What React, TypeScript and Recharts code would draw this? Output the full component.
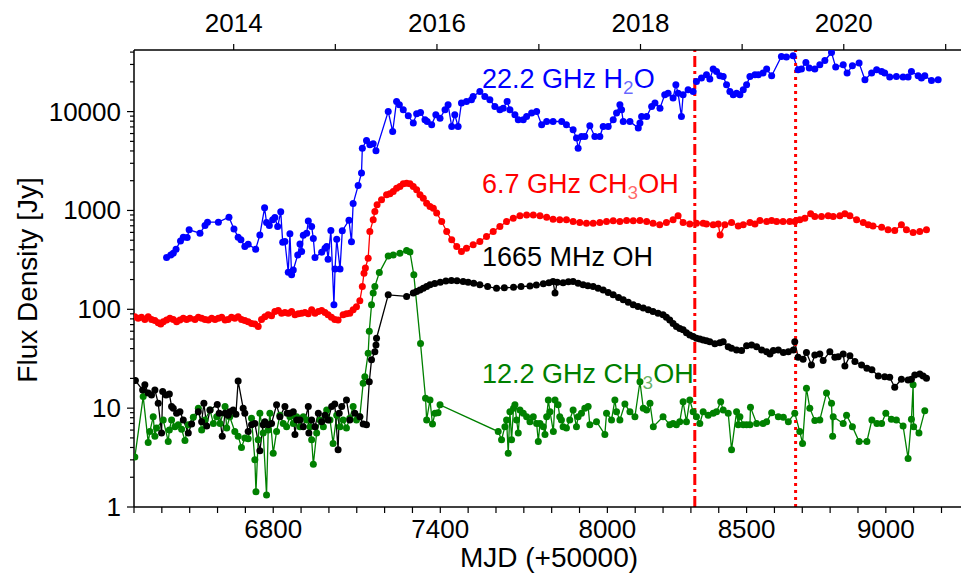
import React from "react";
import { LineChart, Line, XAxis, YAxis, ReferenceLine } from "recharts";

// [MJD - 50000, flux density in Jy]
const h2o: [number, number][] = [
  [6417, 334], [6432, 355], [6441, 370], [6451, 406], [6467, 492], [6477, 537], [6491, 532], [6498, 637],
  [6537, 589], [6555, 703], [6564, 761], [6603, 761], [6641, 855], [6659, 651], [6674, 537], [6684, 504],
  [6698, 431], [6710, 456], [6737, 406], [6752, 566], [6769, 1062], [6776, 755], [6786, 703], [6798, 804],
  [6806, 847], [6816, 687], [6827, 968], [6834, 478], [6842, 485], [6854, 237], [6860, 580], [6866, 224],
  [6872, 250], [6888, 355], [6896, 459], [6902, 384], [6908, 562], [6920, 589], [6926, 780], [6938, 687],
  [6944, 520], [6950, 334], [6974, 378], [6986, 415], [6992, 431], [6997, 321], [7007, 627], [7018, 111],
  [7022, 256], [7028, 512], [7040, 255], [7048, 622], [7072, 798], [7081, 481], [7087, 1175], [7105, 1786],
  [7117, 2387], [7120, 4270], [7135, 5100], [7147, 4610], [7159, 4720], [7169, 4010], [7213, 10020], [7229, 6290],
  [7243, 12650], [7253, 11720], [7267, 10430], [7285, 9060], [7303, 7650], [7315, 9510], [7329, 9800], [7345, 8260],
  [7353, 7940], [7369, 7350], [7384, 9290], [7399, 8590], [7417, 10430], [7428, 11720], [7441, 7070], [7452, 9290],
  [7464, 7070], [7476, 12190], [7494, 12650], [7512, 13150], [7518, 14220], [7542, 15970], [7560, 14220], [7578, 13150],
  [7596, 11270], [7614, 10430], [7626, 10840], [7640, 12650], [7650, 10430], [7668, 9290], [7680, 8260], [7698, 8260],
  [7710, 8920], [7728, 9660], [7746, 10020], [7764, 7350], [7782, 7940], [7805, 7940], [7836, 7940], [7853, 7350],
  [7877, 6540], [7889, 5400], [7895, 4270], [7907, 5600], [7919, 5600], [7937, 7180], [7955, 5600], [7973, 5600],
  [7985, 7070], [8003, 7070], [8021, 8260], [8033, 9660], [8045, 11720], [8051, 10430], [8057, 7940], [8081, 7940],
  [8111, 6810], [8117, 7650], [8123, 8920], [8141, 8920], [8159, 11270], [8171, 12190], [8189, 10840], [8206, 14790],
  [8218, 15380], [8236, 13700], [8246, 18660], [8254, 15380], [8266, 8920], [8272, 14790], [8290, 16630], [8308, 15970],
  [8320, 20180], [8338, 21830], [8356, 23580], [8368, 21330], [8380, 27000], [8392, 25460], [8404, 23000], [8416, 22650],
  [8428, 18660], [8440, 15970], [8452, 14790], [8464, 15380], [8476, 14790], [8488, 16630], [8500, 18660], [8512, 22650],
  [8530, 23580], [8542, 23580], [8559, 24540], [8572, 26920], [8590, 23030], [8625, 36130], [8643, 35630], [8667, 36700],
  [8685, 26490], [8697, 26920], [8713, 31410], [8725, 27540], [8745, 26920], [8763, 29780], [8781, 32880], [8805, 39620],
  [8820, 28200], [8847, 29780], [8861, 24540], [8880, 29090], [8904, 30970], [8925, 20990], [8949, 24540], [8967, 26490],
  [8985, 25460], [8996, 24540], [9014, 22340], [9038, 22650], [9062, 22340], [9080, 22340], [9092, 25460], [9116, 23030],
  [9128, 21830], [9140, 23030], [9164, 20650], [9188, 20990],
];

const ch3oh67: [number, number][] = [
  [6303, 84], [6315, 81], [6327, 83], [6339, 79], [6351, 84], [6363, 79], [6375, 77], [6387, 73],
  [6396, 71], [6405, 75], [6417, 78], [6429, 81], [6441, 79], [6453, 75], [6465, 78], [6477, 81],
  [6489, 79], [6501, 81], [6519, 79], [6531, 83], [6543, 81], [6555, 79], [6567, 78], [6579, 81],
  [6591, 79], [6603, 81], [6615, 83], [6627, 78], [6638, 79], [6650, 83], [6662, 81], [6674, 84],
  [6686, 79], [6698, 77], [6710, 75], [6722, 72], [6734, 71], [6746, 67], [6758, 79], [6770, 84],
  [6782, 88], [6794, 86], [6806, 95], [6818, 97], [6830, 91], [6842, 93], [6854, 91], [6866, 95],
  [6878, 88], [6890, 90], [6902, 91], [6914, 93], [6926, 90], [6938, 99], [6950, 91], [6962, 95],
  [6974, 97], [6986, 93], [6997, 88], [7009, 83], [7021, 79], [7033, 78], [7051, 88], [7063, 90],
  [7075, 91], [7087, 99], [7099, 106], [7111, 122], [7120, 170], [7126, 232], [7131, 262], [7141, 329],
  [7147, 612], [7159, 804], [7165, 975], [7173, 1140], [7189, 1280], [7207, 1438], [7219, 1472], [7231, 1553],
  [7243, 1681], [7255, 1746], [7267, 1860], [7279, 1890], [7291, 1860], [7303, 1746], [7315, 1618], [7327, 1438],
  [7339, 1331], [7351, 1185], [7363, 1096], [7375, 1055], [7387, 940], [7405, 773], [7423, 612], [7441, 504],
  [7459, 431], [7476, 384], [7494, 415], [7518, 449], [7542, 485], [7566, 545], [7590, 612], [7614, 687],
  [7638, 773], [7662, 836], [7686, 882], [7710, 902], [7734, 902], [7758, 882], [7782, 855], [7805, 816],
  [7829, 804], [7853, 804], [7877, 773], [7901, 755], [7925, 743], [7949, 743], [7973, 755], [7997, 773],
  [8021, 785], [8045, 773], [8069, 792], [8093, 785], [8117, 792], [8141, 773], [8164, 743], [8188, 715],
  [8212, 755], [8236, 804], [8254, 882], [8272, 755], [8296, 731], [8320, 743], [8344, 743], [8356, 731],
  [8380, 715], [8398, 731], [8405, 566], [8422, 715], [8446, 755], [8470, 698], [8488, 715], [8512, 755],
  [8530, 731], [8548, 792], [8572, 773], [8590, 792], [8608, 773], [8631, 773], [8655, 773], [8673, 773],
  [8691, 804], [8709, 836], [8730, 924], [8745, 868], [8769, 868], [8793, 882], [8811, 868], [8835, 882],
  [8853, 924], [8871, 882], [8895, 804], [8919, 755], [8937, 715], [8954, 698], [8985, 677], [9008, 637],
  [9032, 627], [9056, 715], [9074, 637], [9098, 598], [9122, 612], [9146, 637],
];

const oh1665: [number, number][] = [
  [6305, 19], [6331, 15.3], [6339, 17.2], [6351, 14.2], [6363, 13.6], [6375, 15.3], [6387, 11.2], [6399, 5.6],
  [6403, 14.7], [6415, 13.6], [6427, 13.9], [6435, 10.4], [6441, 10.0], [6453, 8.9], [6465, 9.2], [6477, 7.6],
  [6495, 5.6], [6507, 6.9], [6531, 9.2], [6543, 7.3], [6551, 11.2], [6561, 6.6], [6573, 9.6], [6599, 10.9],
  [6606, 8.9], [6617, 5.2], [6627, 8.9], [6638, 8.5], [6644, 9.2], [6656, 9.6], [6666, 8.7], [6674, 18.8],
  [6692, 10.0], [6698, 8.9], [6710, 5.8], [6722, 6.8], [6734, 7.0], [6752, 3.7], [6764, 6.8], [6770, 7.3],
  [6782, 6.8], [6794, 7.0], [6812, 10.8], [6824, 8.2], [6842, 10.4], [6850, 8.9], [6860, 8.9], [6872, 9.2],
  [6878, 5.4], [6885, 7.6], [6896, 7.6], [6908, 6.5], [6926, 10.4], [6928, 5.6], [6938, 7.6], [6950, 6.5],
  [6962, 8.9], [6974, 7.3], [6986, 8.5], [6997, 7.6], [7010, 10.4], [7021, 11.0], [7033, 3.8], [7037, 8.9],
  [7046, 10.4], [7063, 12.1], [7075, 7.6], [7093, 8.9], [7111, 8.2], [7123, 6.9], [7135, 6.8], [7145, 18.5],
  [7153, 30.8], [7165, 37.3], [7169, 43.6], [7171, 51], [7213, 140], [7279, 135], [7303, 146], [7315, 151],
  [7327, 157], [7339, 163], [7351, 170], [7363, 177], [7380, 182], [7400, 188], [7420, 193], [7440, 196],
  [7460, 195], [7482, 191], [7500, 188], [7520, 183], [7542, 177], [7570, 170], [7602, 163], [7630, 165],
  [7663, 167], [7690, 170], [7722, 172], [7745, 176], [7770, 181], [7790, 186], [7805, 191], [7812, 146],
  [7820, 188], [7841, 186], [7860, 190], [7877, 191], [7895, 183], [7913, 177], [7930, 173], [7949, 170],
  [7967, 163], [7985, 157], [8003, 148], [8021, 140], [8040, 132], [8057, 125], [8075, 118], [8093, 111],
  [8110, 107], [8129, 103], [8147, 99], [8164, 95], [8182, 91], [8200, 88], [8212, 83], [8224, 78],
  [8236, 72], [8248, 67], [8260, 64], [8272, 62], [8284, 58], [8296, 55], [8308, 53], [8320, 51],
  [8332, 50], [8344, 49], [8356, 48], [8368, 47], [8386, 44.7], [8404, 46], [8416, 47], [8434, 41.9],
  [8446, 40.4], [8464, 38.8], [8482, 38.2], [8500, 42.7], [8518, 43.6], [8536, 41.9], [8554, 38.8], [8572, 37.3],
  [8584, 35.4], [8596, 38.2], [8614, 38.8], [8632, 36.5], [8650, 37.3], [8668, 38.8], [8673, 47], [8685, 32.7],
  [8703, 31.3], [8715, 36.5], [8733, 27.4], [8745, 34.5], [8763, 35.4], [8775, 30.3], [8799, 37.3], [8817, 32.7],
  [8829, 33.2], [8847, 35.4], [8853, 26.7], [8871, 33.8], [8889, 29.6], [8913, 27.4], [8932, 25.3], [8950, 24.4],
  [8973, 21.2], [8996, 20.8], [9014, 20.5], [9032, 16.3], [9056, 19.6], [9080, 19.3], [9092, 19.6], [9104, 21.7],
  [9122, 22.2], [9134, 21.2], [9146, 20.1],
];

const ch3oh122: [number, number][] = [
  [6303, 3.2], [6333, 13.1], [6351, 4.5], [6357, 5.8], [6369, 8.2], [6375, 5.2], [6381, 6.3], [6405, 7.6],
  [6423, 4.6], [6427, 6.0], [6435, 7.6], [6447, 6.5], [6459, 6.8], [6471, 6.1], [6483, 4.7], [6495, 6.8],
  [6513, 8.1], [6531, 10.0], [6543, 6.0], [6555, 7.6], [6573, 9.6], [6585, 7.0], [6597, 8.2], [6609, 7.0],
  [6627, 10.4], [6633, 6.3], [6644, 8.2], [6662, 5.8], [6674, 5.2], [6686, 4.0], [6698, 5.0], [6710, 4.9],
  [6722, 7.9], [6734, 3.0], [6738, 1.43], [6746, 4.8], [6752, 8.9], [6764, 5.6], [6776, 1.32], [6782, 6.0],
  [6788, 8.9], [6800, 3.5], [6812, 5.8], [6824, 8.5], [6836, 7.0], [6848, 6.5], [6860, 8.2], [6872, 7.0],
  [6884, 8.2], [6896, 6.5], [6908, 8.2], [6920, 7.6], [6932, 6.5], [6938, 4.8], [6944, 2.7], [6956, 5.6],
  [6968, 7.6], [6980, 6.5], [6992, 9.6], [7004, 7.6], [7015, 4.4], [7028, 8.5], [7040, 6.5], [7051, 7.6],
  [7063, 6.3], [7075, 7.9], [7087, 10.4], [7099, 7.6], [7111, 8.2], [7123, 17.9], [7129, 20.8], [7141, 36],
  [7145, 60], [7153, 111], [7159, 146], [7165, 170], [7181, 235], [7213, 347], [7231, 355], [7255, 370],
  [7279, 393], [7291, 380], [7305, 223], [7329, 45], [7347, 12.6], [7351, 7.6], [7363, 12.1], [7372, 6.9],
  [7381, 8.9], [7392, 9.0], [7399, 10.8], [7608, 5.8], [7620, 4.8], [7632, 6.5], [7638, 7.6], [7644, 3.5],
  [7650, 9.2], [7656, 4.8], [7663, 10.0], [7668, 10.8], [7674, 7.6], [7680, 5.6], [7686, 9.6], [7698, 8.9],
  [7710, 8.2], [7722, 7.3], [7734, 8.2], [7746, 7.0], [7752, 4.6], [7758, 7.0], [7770, 6.5], [7776, 5.4],
  [7782, 8.2], [7788, 12.1], [7794, 9.2], [7806, 5.8], [7812, 12.1], [7823, 10.8], [7829, 8.2], [7835, 7.6],
  [7841, 6.5], [7853, 6.3], [7865, 7.6], [7877, 9.6], [7889, 6.5], [7895, 8.2], [7907, 8.9], [7919, 10.0],
  [7931, 10.4], [7937, 6.8], [7961, 7.3], [7991, 5.4], [7997, 8.9], [8015, 7.6], [8027, 12.1], [8033, 9.2],
  [8045, 7.6], [8063, 11.0], [8081, 9.2], [8099, 8.2], [8117, 18.5], [8129, 10.0], [8141, 9.6], [8153, 11.2],
  [8165, 6.5], [8200, 8.2], [8224, 6.8], [8236, 7.0], [8248, 6.8], [8260, 7.3], [8272, 11.6], [8284, 7.3],
  [8296, 12.1], [8308, 9.2], [8320, 8.2], [8332, 7.0], [8344, 9.2], [8362, 8.5], [8380, 8.9], [8392, 9.2],
  [8407, 11.6], [8416, 9.6], [8434, 8.9], [8446, 3.8], [8464, 9.2], [8470, 6.8], [8476, 8.2], [8488, 6.8],
  [8500, 6.8], [8512, 6.8], [8514, 10.2], [8536, 7.0], [8559, 7.0], [8572, 7.3], [8590, 9.0], [8614, 8.2],
  [8632, 8.1], [8650, 7.3], [8673, 8.9], [8691, 5.8], [8701, 4.4], [8715, 15.9], [8727, 10.0], [8745, 7.5],
  [8763, 7.6], [8787, 14.2], [8805, 11.2], [8809, 5.2], [8811, 8.2], [8847, 7.0], [8859, 8.5], [8880, 6.5],
  [8904, 4.6], [8932, 4.6], [8950, 7.6], [8968, 7.0], [8985, 7.0], [9000, 8.9], [9020, 7.7], [9038, 7.6],
  [9062, 6.6], [9080, 3.1], [9092, 7.7], [9098, 17.2], [9100, 6.5], [9119, 5.6], [9140, 9.4],
];

// bottom axis ticks (every 100 days), labelled ones listed separately
const mjdTicks = [
  6300, 6400, 6500, 6600, 6700, 6800, 6900, 7000, 7100, 7200, 7300, 7400, 7500, 7600, 7700,
  7800, 7900, 8000, 8100, 8200, 8300, 8400, 8500, 8600, 8700, 8800, 8900, 9000, 9100, 9200,
];
const mjdLabels = [6800, 7400, 8000, 8500, 9000];

// top axis: 1 January of each year (MJD - 50000)
const yearTicks = [6658, 7023, 7388, 7754, 8119, 8484, 8849, 9215];
const yearLabels = ["2014", "", "2016", "", "2018", "", "2020", ""];

const fluxMajor = [1, 10, 100, 1000, 10000];
const fluxTicks = [
  1, 2, 3, 4, 5, 6, 7, 8, 9,
  10, 20, 30, 40, 50, 60, 70, 80, 90,
  100, 200, 300, 400, 500, 600, 700, 800, 900,
  1000, 2000, 3000, 4000, 5000, 6000, 7000, 8000, 9000,
  10000, 20000, 30000, 40000,
];

const flareLine = 8314;
const lateLine = 8676;

const FONT = "'Liberation Sans', Arial, Helvetica, sans-serif";

const toRows = (s: [number, number][]) => s.map(([x, y]) => ({ x, y }));

function YTick(props: any) {
  const { x, y, payload } = props;
  const major = fluxMajor.includes(payload.value);
  return (
    <g>
      <line x1={x - (major ? 7 : 4)} x2={x} y1={y} y2={y} stroke="#000" strokeWidth={1.2} />
      {major && (
        <text x={x - 13} y={y + 9} textAnchor="end" fontSize={26} fontFamily={FONT} fill="#000">
          {payload.value}
        </text>
      )}
    </g>
  );
}

function BottomTick(props: any) {
  const { x, y, payload } = props;
  const lab = mjdLabels.includes(payload.value);
  return (
    <g>
      <line x1={x} x2={x} y1={y} y2={y + 6} stroke="#000" strokeWidth={1.2} />
      {lab && (
        <text x={x} y={y + 31} textAnchor="middle" fontSize={26} fontFamily={FONT} fill="#000">
          {payload.value}
        </text>
      )}
    </g>
  );
}

function TopTick(props: any) {
  const { x, y, index } = props;
  return (
    <g>
      <line x1={x} x2={x} y1={y} y2={y - 6} stroke="#000" strokeWidth={1.2} />
      <text x={x} y={y - 18} textAnchor="middle" fontSize={26} fontFamily={FONT} fill="#000">
        {yearLabels[index] ?? ""}
      </text>
    </g>
  );
}

const series = [
  { name: "12.2 GHz CH3OH", data: ch3oh122, color: "#008000" },
  { name: "1665 MHz OH", data: oh1665, color: "#000000" },
  { name: "6.7 GHz CH3OH", data: ch3oh67, color: "#ff0000" },
  { name: "22.2 GHz H2O", data: h2o, color: "#0000ff" },
];

export default function App() {
  return (
    <div style={{ position: "absolute", left: 0, top: 0, width: 961, height: 573, background: "#fff" }}>
      <LineChart width={961} height={573} margin={{ top: 20, right: 0, bottom: 26, left: 34 }}>
        <XAxis
          dataKey="x"
          type="number"
          domain={[6300, 9270]}
          allowDataOverflow
          ticks={mjdTicks}
          interval={0}
          height={40}
          tickSize={0}
          tickMargin={0}
          tick={(p: any) => <BottomTick {...p} />}
          axisLine={{ stroke: "#000", strokeWidth: 1.5 }}
        />
        <XAxis
          xAxisId="top"
          orientation="top"
          dataKey="x"
          type="number"
          domain={[6300, 9270]}
          allowDataOverflow
          ticks={yearTicks}
          interval={0}
          height={30}
          tickSize={0}
          tickMargin={0}
          tick={(p: any) => <TopTick {...p} />}
          axisLine={{ stroke: "#000", strokeWidth: 1.5 }}
        />
        <YAxis
          dataKey="y"
          type="number"
          scale="log"
          domain={[1, 42000]}
          allowDataOverflow
          ticks={fluxTicks}
          interval={0}
          width={100}
          tickSize={0}
          tickMargin={0}
          tick={(p: any) => <YTick {...p} />}
          axisLine={{ stroke: "#000", strokeWidth: 1.5 }}
        />
        {series.map((s) => (
          <Line
            key={s.name}
            name={s.name}
            data={toRows(s.data)}
            dataKey="y"
            stroke={s.color}
            strokeWidth={1.3}
            dot={{ r: 3.5, fill: s.color, stroke: s.color, strokeWidth: 0 }}
            activeDot={false}
            isAnimationActive={false}
          />
        ))}
        <ReferenceLine x={flareLine} stroke="#ff0000" strokeWidth={3} strokeDasharray="11 4 3 4" />
        <ReferenceLine x={lateLine} stroke="#ff0000" strokeWidth={3} strokeDasharray="3 4" />
      </LineChart>
      <svg
        width={961}
        height={573}
        style={{ position: "absolute", left: 0, top: 0, pointerEvents: "none" }}
        fontFamily={FONT}
        fontSize={27}
      >
        <text x={549} y={567} textAnchor="middle" fill="#000" fontSize={28}>MJD (+50000)</text>
        <text x={37} y={280} textAnchor="middle" fill="#000" fontSize={28} transform="rotate(-90 37 280)">
          Flux Density [Jy]
        </text>
        <text x={482} y={88} fill="#0000ff">
          22.2 GHz H<tspan fontSize={19} dy={6} fillOpacity={0.6}>2</tspan><tspan dy={-6}>O</tspan>
        </text>
        <text x={482} y={193} fill="#ff0000">
          6.7 GHz CH<tspan fontSize={19} dy={6} fillOpacity={0.6}>3</tspan><tspan dy={-6}>OH</tspan>
        </text>
        <text x={482} y={266} fill="#000">1665 MHz OH</text>
        <text x={482} y={383} fill="#008000">
          12.2 GHz CH<tspan fontSize={19} dy={6} fillOpacity={0.6}>3</tspan><tspan dy={-6}>OH</tspan>
        </text>
      </svg>
    </div>
  );
}
